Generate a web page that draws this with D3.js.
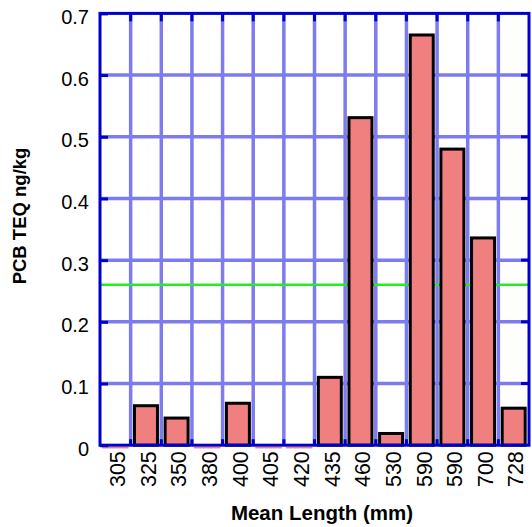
<!DOCTYPE html>
<html><head><meta charset="utf-8">
<script src="https://cdn.jsdelivr.net/npm/d3@7"></script>
<style>body{margin:0;background:#fff}svg{display:block}</style>
</head><body>
<svg id="c" width="532" height="527"></svg>
<script>
const categories = ["305","325","350","380","400","405","420","435","460","530","590","590","700","728"];
const values = [0, 0.064, 0.044, 0, 0.068, 0, 0, 0.110, 0.531, 0.019, 0.665, 0.480, 0.336, 0.060];
const yTicks = [0, 0.1, 0.2, 0.3, 0.4, 0.5, 0.6, 0.7];
const yTickLabels = ["0","0.1","0.2","0.3","0.4","0.5","0.6","0.7"];
const refValue = 0.26;
const xTitle = "Mean Length (mm)";
const yTitle = "PCB TEQ ng/kg";

const svg = d3.select("#c");
const L = 100, R = 529, T = 13.4, B = 445.2;
const idx = categories.map((_, i) => i);
const x = d3.scaleBand().domain(idx).range([L, R]).paddingInner(0.25).paddingOuter(0.125);
const xg = d3.scaleBand().domain(idx).range([L, R]).padding(0);
const y = d3.scaleLinear().domain([0, 0.7]).range([B, T]);

const gridColor = "#7c7cf0", axisColor = "#0000cc";
const font = "Liberation Sans, Arial, sans-serif";
// gridlines
svg.append("g").selectAll("line").data(yTicks.slice(1, -1)).join("line")
  .attr("x1", L).attr("x2", R).attr("y1", d => y(d)).attr("y2", d => y(d))
  .attr("stroke", gridColor).attr("stroke-width", 3.5);
svg.append("g").selectAll("line").data(idx.slice(1)).join("line")
  .attr("x1", d => xg(d)).attr("x2", d => xg(d)).attr("y1", T).attr("y2", B)
  .attr("stroke", gridColor).attr("stroke-width", 3.5);

// reference line (behind bars)
svg.append("line").attr("x1", L).attr("x2", R).attr("y1", y(refValue)).attr("y2", y(refValue))
  .attr("stroke", "#22ee22").attr("stroke-width", 2.5);

// bars
svg.append("g").selectAll("rect").data(idx.filter(i => values[i] > 0)).join("rect")
  .attr("x", i => x(i)).attr("width", x.bandwidth())
  .attr("y", i => y(values[i])).attr("height", i => y(0) - y(values[i]))
  .attr("fill", "#f08080").attr("stroke", "#000").attr("stroke-width", 3);
// zero-value bars shown as a thin pink line under the axis
svg.append("g").selectAll("line").data(idx.filter(i => values[i] === 0)).join("line")
  .attr("x1", i => xg(i) + 2).attr("x2", i => xg(i) + xg.bandwidth() - 2)
  .attr("y1", y(0) + 2.5).attr("y2", y(0) + 2.5)
  .attr("stroke", "#f08080").attr("stroke-width", 1.5);

// frame
svg.append("rect").attr("x", L).attr("y", T).attr("width", R - L).attr("height", B - T)
  .attr("fill", "none").attr("stroke", axisColor).attr("stroke-width", 3);

// tick marks on top/bottom (vertical grid positions) and right
const tk = svg.append("g").attr("stroke", axisColor).attr("stroke-width", 3);
idx.slice(1).forEach(i => {
  tk.append("line").attr("x1", xg(i)).attr("x2", xg(i)).attr("y1", T).attr("y2", T + 8);
  tk.append("line").attr("x1", xg(i)).attr("x2", xg(i)).attr("y1", B).attr("y2", B - 6);
});
yTicks.slice(1, -1).forEach(v => {
  tk.append("line").attr("x1", R).attr("x2", R - 8).attr("y1", y(v)).attr("y2", y(v));
});

// y axis
const yAxis = d3.axisLeft(y).tickValues(yTicks).tickSize(-8).tickPadding(11)
  .tickFormat((d, i) => yTickLabels[i]);
const ga = svg.append("g").attr("transform", `translate(${L},0)`).call(yAxis);
ga.select(".domain").remove();
ga.selectAll(".tick line").attr("stroke", axisColor).attr("stroke-width", 3);
ga.selectAll(".tick text").attr("font-family", font)
  .attr("font-size", 20).attr("fill", "#000").attr("dy", "0.5em");

// x axis
const xAxis = d3.axisBottom(x).tickSize(0).tickFormat(i => categories[i]);
const gx = svg.append("g").attr("transform", `translate(0,${B})`).call(xAxis);
gx.select(".domain").remove();
gx.selectAll(".tick text").attr("font-family", font)
  .attr("font-size", 21.5).attr("fill", "#000")
  .attr("transform", "rotate(-90)").attr("text-anchor", "end")
  .attr("x", -6).attr("y", 2).attr("dy", "0.36em");

// titles
svg.append("text").attr("x", 322).attr("y", 520).attr("text-anchor", "middle")
  .attr("font-family", font).attr("font-weight", "bold")
  .attr("font-size", 20.5).text(xTitle);
svg.append("text").attr("transform", "translate(26,216) rotate(-90)").attr("text-anchor", "middle")
  .attr("font-family", font).attr("font-weight", "bold")
  .attr("font-size", 18.5).text(yTitle);
</script>
</body></html>
